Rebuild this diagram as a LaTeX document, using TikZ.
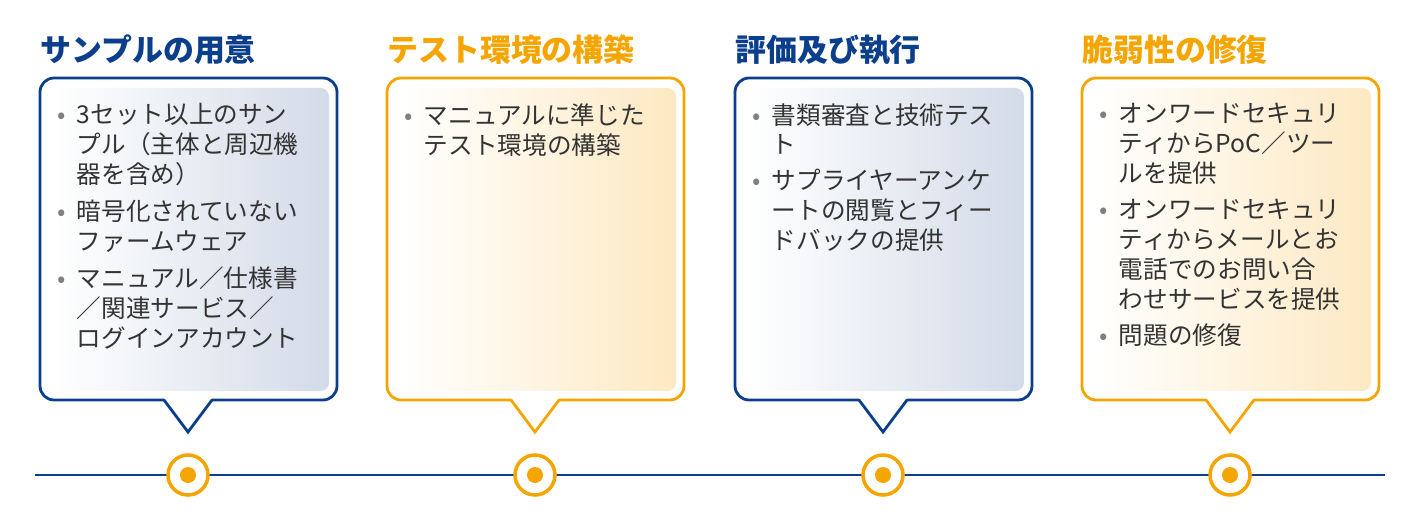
\documentclass[tikz,border=0pt]{standalone}
\usepackage{fontspec}
\setmainfont{Noto Sans CJK JP}
\usetikzlibrary{calc,positioning}
\definecolor{navy}{HTML}{0B3F8C}
\definecolor{amber}{HTML}{F5A500}
\definecolor{navyfade}{HTML}{D3DBE8}
\definecolor{amberfade}{HTML}{FDE9C3}
\newcommand{\bul}[1]{\noindent\makebox[0.8em][l]{\textcolor{gray}{•}}\parbox[t]{\dimexpr\linewidth-0.8em}{#1}\par\vspace{9pt}}
\tikzset{
  ttl/.style={anchor=west,inner sep=0pt,font=\fontsize{22}{26}\selectfont\bfseries},
  body/.style={anchor=north west,text width=6.9cm,inner sep=0pt,align=left,
    font=\fontsize{17.5}{21.3}\selectfont,text=black!80},
  dot/.style={circle,draw=amber,line width=2.5pt,fill=white,minimum size=1cm,inner sep=0pt}
}
\begin{document}
\begin{tikzpicture}[x=0.025cm,y=-0.025cm]
\useasboundingbox (0,0) rectangle (1420,525);
\coordinate (tl-l) at (35,475);
\coordinate (tl-r) at (1385,475);
\draw[navy,line width=2pt] (tl-l) -- (tl-r);

\foreach \n/\xa/\col/\fade/\head/\txt in {
  1/40/navy/navyfade/{サンプルの用意}/{\bul{3セット以上のサン\\プル（主体と周辺機\\器を含め）}\bul{暗号化されていない\\ファームウェア}\bul{マニュアル／仕様書\\／関連サービス／\\ログインアカウント}},
  2/387/amber/amberfade/{テスト環境の構築}/{\bul{マニュアルに準じた\\テスト環境の構築}},
  3/735/navy/navyfade/{評価及び執行}/{\bul{書類審査と技術テス\\ト}\bul{サプライヤーアンケ\\ートの閲覧とフィー\\ドバックの提供}},
  4/1082/amber/amberfade/{脆弱性の修復}/{\bul{オンワードセキュリ\\ティからPoC／ツー\\ルを提供}\bul{オンワードセキュリ\\ティからメールとお\\電話でのお問い合\\わせサービスを提供}\bul{問題の修復}}}{
  \pgfmathsetmacro{\xb}{\xa+297}
  \pgfmathsetmacro{\xc}{\xa+148}
  % callout box
  \draw[\col,line width=2pt,fill=white,rounded corners=10pt]
    (\xa,78) rectangle (\xb,400);
  \shade[left color=white,right color=\fade,rounded corners=6pt]
    (\xa+14,88) rectangle (\xb-8,391);
  \fill[white] (\xc-24,398) -- (\xc+24,398) -- (\xc,432) -- cycle;
  \draw[\col,line width=2pt,line join=miter] (\xc-24,400) -- (\xc,432) -- (\xc+24,400);
  \node[ttl,text=\col] (h\n) at (\xa,50) {\head};
  \node[body] (t\n) at (\xa+17,103) {\txt};
  % marker on the line
  \node[dot] (c\n) at (\xc,475) {};
  \fill[amber] (c\n) circle (8);
}
\end{tikzpicture}
\end{document}
